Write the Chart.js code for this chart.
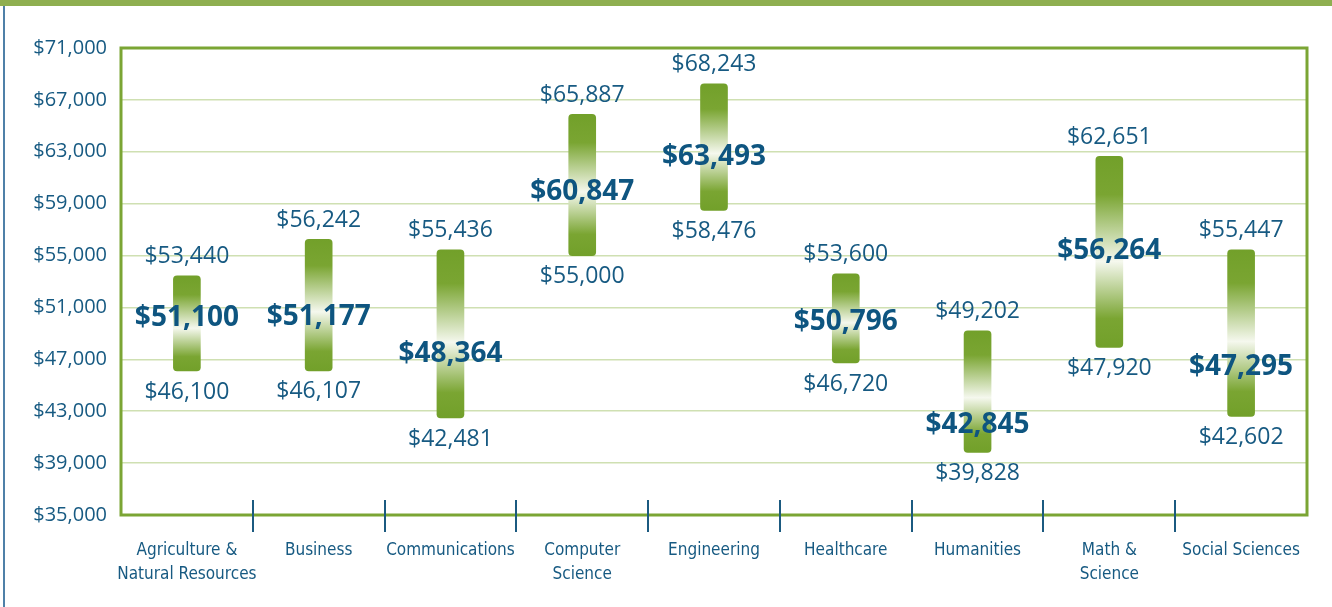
<!DOCTYPE html>
<html>
<head>
<meta charset="utf-8">
<script src="https://cdn.jsdelivr.net/npm/chart.js@4.4.1/dist/chart.umd.min.js"></script>
<style>
    html, body { margin: 0; padding: 0; background: #fff; }
    #wrap { position: relative; width: 1332px; height: 607px; overflow: hidden; }
    #stripe { position: absolute; left: 0; top: 0; width: 1332px; height: 6px; background: #8faf50; }
    #edge { position: absolute; left: 3px; top: 6px; width: 2px; height: 601px; background: #4f80a8; }
    #chart { position: absolute; left: 0; top: 0; }
</style>
</head>
<body>
<div id="wrap">
    <canvas id="chart" width="1332" height="607"></canvas>
    <div id="stripe"></div>
    <div id="edge"></div>
</div>
<script>
// Datos
const categories = [
    ['Agriculture &', 'Natural Resources'],
    'Business',
    'Communications',
    ['Computer', 'Science'],
    'Engineering',
    'Healthcare',
    'Humanities',
    ['Math &', 'Science'],
    'Social Sciences'
];
const lowValues = [46100, 46107, 42481, 55000, 58476, 46720, 39828, 47920, 42602];
const highValues = [53440, 56242, 55436, 65887, 68243, 53600, 49202, 62651, 55447];
const medianValues = [51100, 51177, 48364, 60847, 63493, 50796, 42845, 56264, 47295];
const yTicks = [35000, 39000, 43000, 47000, 51000, 55000, 59000, 63000, 67000, 71000];

const textColor = '#175a82';
const money = v => '$' + v.toLocaleString('en-US');

// Gradiente vertical de cada barra (verde - blanco - verde)
function barGradient(context) {
    const chart = context.chart;
    const y = chart.scales.y;
    const raw = context.raw;
    if (!y || !raw || !chart.chartArea) return '#77a22e';
    const top = y.getPixelForValue(raw[1]);
    const bottom = y.getPixelForValue(raw[0]);
    if (!isFinite(top) || !isFinite(bottom) || top === bottom) return '#77a22e';
    const g = chart.ctx.createLinearGradient(0, top, 0, bottom);
    g.addColorStop(0, '#72a02a');
    g.addColorStop(0.2, '#7aa532');
    g.addColorStop(0.55, '#f5f8ee');
    g.addColorStop(0.85, '#7aa532');
    g.addColorStop(1, '#72a02a');
    return g;
}

// Marco, marcas del eje y etiquetas de valores
const decorations = {
    id: 'decorations',
    beforeDatasetsDraw(chart) {
        const ctx = chart.ctx;
        const area = chart.chartArea;
        ctx.save();
        ctx.strokeStyle = '#7ba534';
        ctx.lineWidth = 3;
        ctx.strokeRect(area.left, area.top, area.right - area.left, area.bottom - area.top);
        ctx.restore();
    },
    afterDatasetsDraw(chart) {
        const ctx = chart.ctx;
        const x = chart.scales.x;
        const y = chart.scales.y;
        const area = chart.chartArea;

        ctx.save();
        ctx.strokeStyle = '#1b5a80';
        ctx.lineWidth = 2;
        for (let i = 0; i < categories.length - 1; i++) {
            const px = Math.round((x.getPixelForValue(i) + x.getPixelForValue(i + 1)) / 2);
            ctx.beginPath();
            ctx.moveTo(px, area.bottom - 15);
            ctx.lineTo(px, area.bottom + 17);
            ctx.stroke();
        }

        ctx.textAlign = 'center';
        ctx.textBaseline = 'middle';
        chart.getDatasetMeta(0).data.forEach((bar, i) => {
            const top = Math.min(bar.y, bar.base);
            const bottom = Math.max(bar.y, bar.base);
            ctx.fillStyle = textColor;
            ctx.font = '23px "Open Sans", sans-serif';
            ctx.fillText(money(highValues[i]), bar.x, top - 19);
            ctx.fillText(money(lowValues[i]), bar.x, bottom + 21);
            ctx.fillStyle = '#0e5580';
            ctx.font = 'bold 28px "Open Sans", sans-serif';
            ctx.fillText(money(medianValues[i]), bar.x, y.getPixelForValue(medianValues[i]) + 12);
        });
        ctx.restore();
    }
};

new Chart(document.getElementById('chart'), {
    type: 'bar',
    data: {
        labels: categories,
        datasets: [{
            data: lowValues.map((v, i) => [v, highValues[i]]),
            backgroundColor: barGradient,
            borderSkipped: false,
            borderRadius: 4,
            barThickness: 27
        }]
    },
    options: {
        responsive: false,
        animation: false,
        layout: { padding: { top: 48, right: 25, left: 0, bottom: 0 } },
        plugins: {
            legend: { display: false },
            tooltip: { enabled: false }
        },
        scales: {
            x: {
                grid: { display: false },
                border: { display: false },
                ticks: {
                    color: textColor,
                    padding: 15,
                    autoSkip: false,
                    maxRotation: 0,
                    font: { family: '"DejaVu Sans Condensed", "Liberation Sans Narrow", sans-serif', size: 17, lineHeight: 1.45 }
                },
                afterFit(scale) { scale.height = 92; }
            },
            y: {
                min: 35000,
                max: 71000,
                afterBuildTicks(scale) { scale.ticks = yTicks.map(v => ({ value: v })); },
                grid: { color: '#cfe0b2', lineWidth: 1.5, drawTicks: false },
                border: { display: false },
                ticks: {
                    color: textColor,
                    padding: 14,
                    font: { family: '"Open Sans", sans-serif', size: 20 },
                    callback: v => money(v)
                },
                afterFit(scale) { scale.width = 121; }
            }
        }
    },
    plugins: [decorations]
});
</script>
</body>
</html>
